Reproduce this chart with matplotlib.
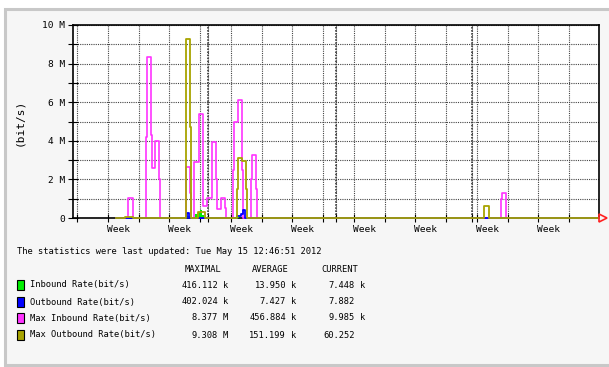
import matplotlib
matplotlib.use('Agg')
import matplotlib.pyplot as plt
from matplotlib.patches import Rectangle

plt.rcParams['font.family'] = 'DejaVu Sans Mono'
plt.rcParams['font.size'] = 6.3

# 시간축 (격자 한 칸 = 1), 값은 Mbit/s
t_max_in = [1.40, 1.80, 1.96, 2.37, 2.40, 2.53, 2.56, 2.66, 2.79, 2.83,
            3.67, 3.80, 3.83, 3.93, 4.10, 4.22, 4.35, 4.52, 4.65, 4.68,
            4.80, 4.93, 4.97, 5.20, 5.23, 5.36, 5.49, 5.52, 5.80, 5.83,
            5.95, 5.98, 13.92, 13.95, 14.07, 17.09]
max_in = [0, 1.05, 0, 4.2, 8.35, 4.3, 2.6, 4.0, 2.0, 0,
          2.65, 1.3, 0, 2.9, 5.4, 0.6, 1.05, 3.95, 2.0, 0.48,
          1.05, 0.5, 0, 2.5, 5.0, 6.1, 2.5, 0, 2.0, 3.25,
          1.5, 0, 1.0, 1.32, 0, 0]

t_max_out = [1.40, 1.70, 1.96, 3.66, 3.68, 3.80, 3.82, 4.05, 4.30,
             5.33, 5.36, 5.49, 5.63, 5.66, 13.36, 13.52, 17.09]
max_out = [0, 0.06, 0, 4.7, 9.28, 4.7, 0, 0.3, 0,
           1.5, 3.12, 2.97, 1.5, 0, 0.62, 0, 0]

t_in = [1.40, 2.38, 2.50, 2.67, 2.80, 3.67, 3.80, 3.95, 4.05, 4.12,
        4.18, 4.25, 4.55, 4.65, 5.20, 5.40, 5.80, 5.98, 17.09]
inbound = [0, 0.05, 0, 0.05, 0, 0.08, 0, 0.22, 0.3, 0.4,
           0.15, 0, 0.05, 0, 0.05, 0, 0.05, 0, 0]

t_out = [1.40, 3.71, 3.78, 5.33, 5.45, 5.52, 5.60, 17.09]
outbound = [0, 0.25, 0, 0.1, 0.2, 0.4, 0, 0]

grid_x = [0.13 + k for k in range(17)]
extra_x = [4.39, 8.55, 12.97]
week_x = [1.47 + 2 * k for k in range(8)]
y_ticks = list(range(11))
y_labels = ['0', '', '2 M', '', '4 M', '', '6 M', '', '8 M', '', '10 M']

# 표 부분
names = ['Inbound Rate(bit/s)', 'Outbound Rate(bit/s)',
         'Max Inbound Rate(bit/s)', 'Max Outbound Rate(bit/s)']
colors = ['#00ee00', '#0000ff', '#ff33ff', '#a8a400']
maximal = ['416.112', '402.024', '8.377', '9.308']
maximal_u = ['k', 'k', 'M', 'M']
average = ['13.950', '7.427', '456.884', '151.199']
average_u = ['k', 'k', 'k', 'k']
current = ['7.448', '7.882', '9.985', '60.252']
current_u = ['k', '', 'k', '']

W, H = 609, 367
fig = plt.figure(figsize=(W / 100, H / 100), dpi=100)
fig.patch.set_facecolor('white')
fig.patches.append(Rectangle((5 / W, 2 / H), 610 / W, 356 / H, transform=fig.transFigure,
                             facecolor='#f6f6f6', edgecolor='#c8c8c8', lw=2.2, zorder=-5))

ax = fig.add_axes([73 / W, 1 - 218 / H, 526 / W, 193 / H])
ax.set_facecolor('white')

ax.fill_between(t_in, inbound, step='post', color=colors[0], lw=0, zorder=3)
ax.step(t_max_in, max_in, where='post', color=colors[2], lw=1.2, zorder=4, clip_on=False)
ax.step(t_out, outbound, where='post', color=colors[1], lw=1.3, zorder=5, clip_on=False)
ax.step(t_max_out, max_out, where='post', color=colors[3], lw=1.3, zorder=6, clip_on=False)

ax.set_xlim(0, 17.1)
ax.set_ylim(0, 10)
ax.set_yticks(y_ticks, labels=y_labels)
ax.set_xticks(week_x, labels=['Week'] * len(week_x))
ax.set_xticks(grid_x + extra_x, minor=True)
ax.tick_params(axis='x', which='major', length=0, pad=5, labelsize=6.8)
ax.tick_params(axis='x', which='minor', direction='inout', length=6, width=0.8)
ax.tick_params(axis='y', direction='inout', length=7, width=0.8, pad=2, labelsize=6.8)
ax.grid(True, axis='y', color='#444444', linestyle=(0, (1, 1)), lw=0.8, zorder=1)
ax.grid(True, axis='x', which='minor', color='#444444', linestyle=(0, (1, 1)), lw=0.8, zorder=1)
for x in extra_x:
    ax.axvline(x, color='#222222', linestyle=(0, (1, 1)), lw=1.1, zorder=1)
for s in ax.spines.values():
    s.set_color('black')
    s.set_linewidth(1.2)
ax.plot(1.008, 0, marker='>', ms=6, mfc='none', mec='#ff2020', mew=1.2,
        transform=ax.transAxes, clip_on=False, zorder=7)

fig.text(19 / W, 1 - 122 / H, '(bit/s)', rotation=90, ha='center', va='center', fontsize=8)


def put(x, y, s, ha='left'):
    fig.text(x / W, 1 - y / H, s, ha=ha, va='center')


put(17, 252, 'The statistics were last updated: Tue May 15 12:46:51 2012')
put(221, 269, 'MAXIMAL', ha='right')
put(289, 269, 'AVERAGE', ha='right')
put(358, 269, 'CURRENT', ha='right')
rows_y = [285, 302, 318, 335]
for i, y in enumerate(rows_y):
    fig.patches.append(Rectangle((17 / W, 1 - (y + 5) / H), 7 / W, 10 / H,
                                 transform=fig.transFigure, facecolor=colors[i],
                                 edgecolor='black', lw=0.8))
    put(30, y, names[i])
    put(218, y, maximal[i], ha='right')
    put(223, y, maximal_u[i])
    put(286, y, average[i], ha='right')
    put(291, y, average_u[i])
    put(355, y, current[i], ha='right')
    put(360, y, current_u[i])

fig.savefig('out.png', dpi=100)
